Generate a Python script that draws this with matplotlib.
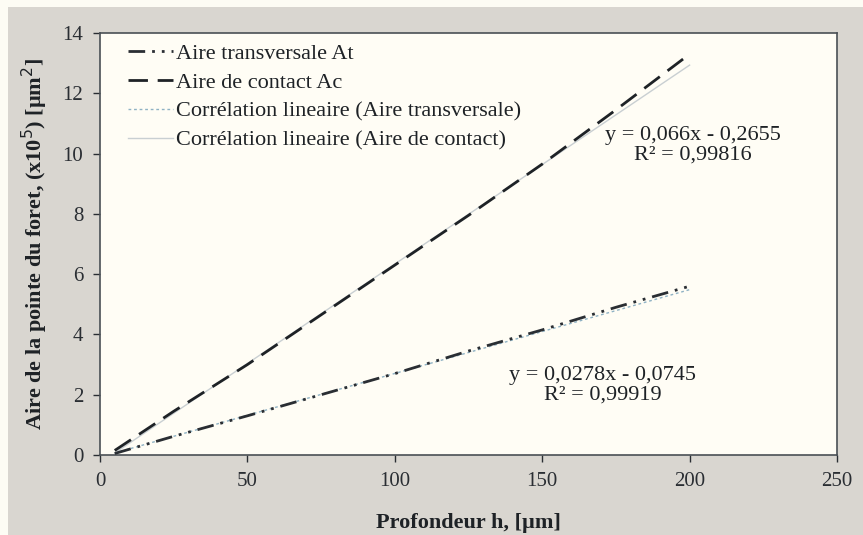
import matplotlib
matplotlib.use("Agg")
import matplotlib.pyplot as plt
import numpy as np
from matplotlib.patches import Rectangle

plt.rcParams['font.family'] = ['Liberation Serif', 'DejaVu Serif']

# Data
h = [5, 25, 50, 75, 100, 125, 150, 175, 200]
aire_transversale = [0.05, 0.62, 1.3, 2.0, 2.7, 3.45, 4.15, 4.9, 5.6]
aire_contact = [0.15, 1.45, 3.0, 4.65, 6.3, 7.95, 9.65, 11.45, 13.3]
fit_at = (0.0278, -0.0745)
fit_ac = (0.066, -0.2655)
fit_range = [5, 200]

labels = ["Aire transversale At", "Aire de contact Ac",
          "Corrélation lineaire (Aire transversale)",
          "Corrélation lineaire (Aire de contact)"]

fig = plt.figure(figsize=(8.63, 5.35), dpi=100)
fig.patch.set_facecolor('#fdfcf4')
fig.patches.append(Rectangle((8/863, 0), 1, 1 - 7/535, transform=fig.transFigure,
                             facecolor='#d9d6d0', edgecolor='none', zorder=-10))
ax = fig.add_axes([100/863, (535-455)/535, (837-100)/863, (455-33)/535])
ax.set_facecolor('#fffdf5')

xf = np.array(fit_range, dtype=float)
ax.plot(h, aire_transversale, color='#2a2e33', lw=2.0, linestyle=(0, (6, 2.5, 1, 2.5, 1, 2.5)), label=labels[0], zorder=3)
ax.plot(h, aire_contact, color='#1e2226', lw=2.0, linestyle=(0, (7, 3.5)), label=labels[1], zorder=3)
ax.plot(xf, fit_at[0]*xf + fit_at[1], color='#8fb2c4', lw=1.0, linestyle=(0, (2, 2)), label=labels[2], zorder=2)
ax.plot(xf, fit_ac[0]*xf + fit_ac[1], color='#c9cfd2', lw=1.0, label=labels[3], zorder=2)

ax.set_xlim(0, 250)
ax.set_ylim(0, 14)
ax.set_xticks([0, 50, 100, 150, 200, 250])
ax.set_yticks(range(0, 15, 2))
ax.tick_params(direction='out', length=5, width=1, labelsize=15, colors='#2a2e33', pad=7)
for s in ax.spines.values():
    s.set_color('#4a5055')
    s.set_linewidth(1.2)

ax.set_xlabel("Profondeur h, [µm]", fontsize=16, fontweight='bold', color='#1e2226', labelpad=16)
ax.set_ylabel("Aire de la pointe du foret, (x10$^5$) [µm$^2$]", fontsize=16, fontweight='bold', color='#1e2226', labelpad=9)

leg = ax.legend(loc='upper left', bbox_to_anchor=(0.025, 1.0), frameon=False, fontsize=16,
                handlelength=2.0, handletextpad=0.15, labelspacing=0.38, borderaxespad=0.05)
for t in leg.get_texts():
    t.set_color('#1e2226')

ax.text(201, 10.27, "y = 0,066x - 0,2655\nR² = 0,99816", ha='center', va='center',
        fontsize=16, color='#1e2226', linespacing=1.05)
ax.text(170.6, 2.32, "y = 0,0278x - 0,0745\nR² = 0,99919", ha='center', va='center',
        fontsize=16, color='#1e2226', linespacing=1.05)

fig.savefig("out.png", dpi=100, facecolor=fig.get_facecolor())
